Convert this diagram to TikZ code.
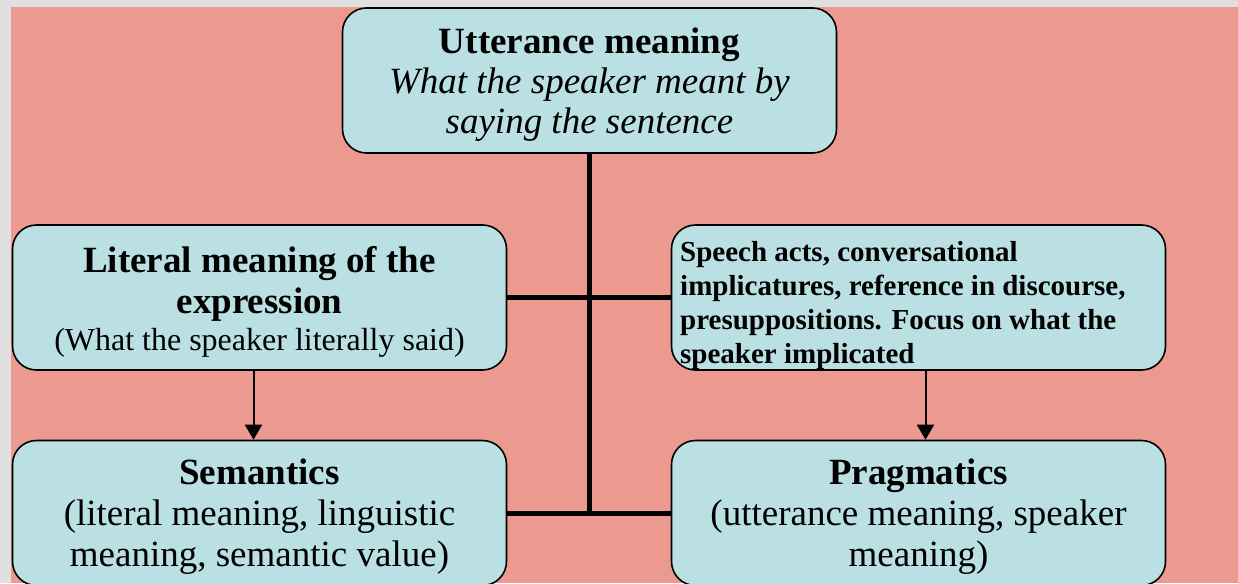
\documentclass[tikz,border=0pt]{standalone}
\usepackage{fontspec}
\setmainfont{Liberation Serif}
\usetikzlibrary{arrows.meta}

\definecolor{slidepink}{RGB}{236,154,144}
\definecolor{boxblue}{RGB}{187,224,227}
\definecolor{framegray}{RGB}{224,224,224}

\begin{document}
\begin{tikzpicture}[x=1pt, y=-1pt,
    box/.style={draw, line width=1.6pt, fill=boxblue, rounded corners=24pt,
                minimum width=494pt, minimum height=145pt, inner sep=0pt},
    boxtext/.style={align=center, inner sep=0pt,
                    font=\fontsize{37}{41}\selectfont},
    link/.style={line width=5pt},
    arr/.style={line width=2pt, -{Triangle[width=17pt, length=15pt]}}
  ]
  \useasboundingbox (0,0) rectangle (1238,583);
  \clip (0,0) rectangle (1238,583);
  \fill[framegray] (0,0) rectangle (1238,583);
  \fill[slidepink] (11,7) rectangle (1238,583);

  % boxes
  \node[box] (utter) at (589.5, 80.5) {};
  \node[box] (literal) at (259.5, 297.5) {};
  \node[box] (speech) at (918.5, 297.5) {};
  \node[box] (sem) at (259.5, 513) {};
  \node[box] (prag) at (918.5, 513) {};

  % texts
  \node[boxtext, font=\fontsize{37}{40}\selectfont] (uttertxt)
    at ([yshift=-4pt]utter.center)
    {\textbf{Utterance meaning}\\ \textit{What the speaker meant by}\\
     \textit{saying the sentence}};
  \node[boxtext] (literaltxt) at ([yshift=-4pt]literal.center)
    {\textbf{Literal meaning of the}\\ \textbf{expression}\\[-4pt]
     {\fontsize{32}{36}\selectfont (What the speaker literally said)}};
  \begin{scope}
    \clip[rounded corners=24pt] (speech.south west) rectangle (speech.north east);
    \node[anchor=north west, align=left, inner sep=0pt,
          font=\fontsize{29}{34}\selectfont\bfseries] (speechtxt) at (680, 241)
      {Speech acts, conversational\\ implicatures, reference in discourse,\\
       presuppositions. Focus on what the\\ speaker implicated};
  \end{scope}
  \node[boxtext] (semtxt) at ([yshift=-4pt]sem.center)
    {\textbf{Semantics}\\ (literal meaning, linguistic\\ meaning, semantic value)};
  \node[boxtext] (pragtxt) at ([yshift=-4pt]prag.center)
    {\textbf{Pragmatics}\\ (utterance meaning, speaker\\ meaning)};

  % connectors
  \draw[link] (utter.south) -- (utter.south |- sem.east);
  \draw[link] (literal.east) -- (speech.west);
  \draw[link] (sem.east) -- (prag.west);

  \draw[arr] ([xshift=-6pt]literal.south) -- ([xshift=-6pt]literal.south |- sem.north);
  \draw[arr] ([xshift=7pt]speech.south) -- ([xshift=7pt]speech.south |- prag.north);
\end{tikzpicture}
\end{document}
